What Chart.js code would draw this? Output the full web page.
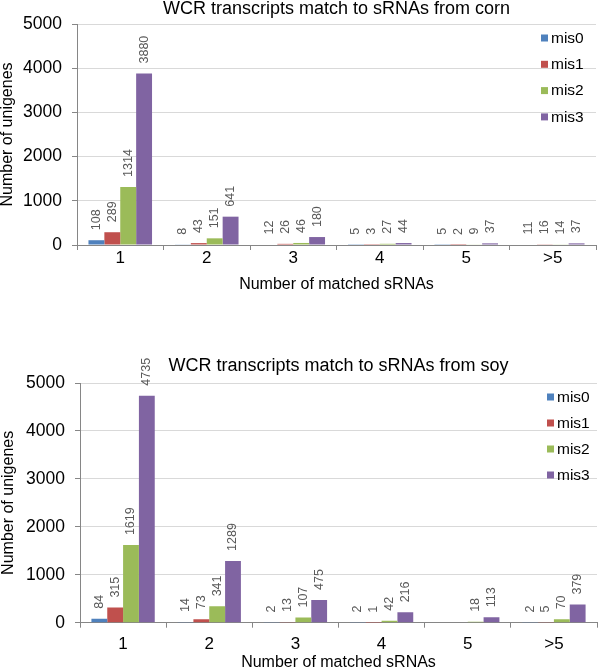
<!DOCTYPE html>
<html><head><meta charset="utf-8">
<script src="https://cdn.jsdelivr.net/npm/chart.js@4"></script>
<style>
html,body{margin:0;padding:0;background:#fff;overflow:hidden;width:600px;height:669px}
#c1wrap{position:absolute;left:0;top:0;width:600px;height:300px}
#c2wrap{position:absolute;left:0;top:325px;width:600px;height:354px}
</style></head><body>
<div id="c1wrap"><canvas id="corn"></canvas></div>
<div id="c2wrap"><canvas id="soy"></canvas></div>
<script>
const categories = ['1', '2', '3', '4', '5', '>5'];
const seriesNames = ['mis0', 'mis1', 'mis2', 'mis3'];
const cornMis0 = [108, 8, 12, 5, 5, 11];
const cornMis1 = [289, 43, 26, 3, 2, 16];
const cornMis2 = [1314, 151, 46, 27, 9, 14];
const cornMis3 = [3880, 641, 180, 44, 37, 37];
const soyMis0 = [84, 14, 2, 2, null, 2];
const soyMis1 = [315, 73, 13, 1, null, 5];
const soyMis2 = [1619, 341, 107, 42, 18, 70];
const soyMis3 = [4735, 1289, 475, 216, 113, 379];
const yTickValues = [0, 1000, 2000, 3000, 4000, 5000];
const yTickLabels = ['0', '1000', '2000', '3000', '4000', '5000'];

const COLORS = ['#4F81BD', '#C0504D', '#9BBB59', '#8064A2'];
const FONT = "'Liberation Sans', Arial, sans-serif";
Chart.defaults.font.family = FONT;

const barValues = {
  id: 'barValues',
  afterDatasetsDraw(chart, args, o) {
    const ctx = chart.ctx;
    ctx.save();
    ctx.font = o.size + 'px ' + FONT;
    ctx.fillStyle = o.color;
    ctx.textAlign = 'left';
    ctx.textBaseline = 'middle';
    chart.data.datasets.forEach((ds, i) => {
      const meta = chart.getDatasetMeta(i);
      meta.data.forEach((bar, j) => {
        const v = ds.data[j];
        if (v === null || v === undefined) return;
        ctx.save();
        ctx.translate(bar.x, bar.y - o.offset);
        ctx.rotate(-Math.PI / 2);
        ctx.fillText(String(v), 0, 0);
        ctx.restore();
      });
    });
    ctx.restore();
  }
};

const sideLegend = {
  id: 'sideLegend',
  afterDraw(chart, args, o) {
    const ctx = chart.ctx, ca = chart.chartArea;
    ctx.save();
    ctx.font = o.size + 'px ' + FONT;
    ctx.textAlign = 'left';
    ctx.textBaseline = 'middle';
    chart.data.datasets.forEach((ds, i) => {
      const y = ca.top + o.top + i * o.gap;
      const x = ca.right - o.right;
      ctx.fillStyle = ds.backgroundColor;
      ctx.fillRect(x, y - 3.5, 7, 7);
      ctx.fillStyle = '#000';
      ctx.fillText(ds.label, x + 10, y + 0.5);
    });
    ctx.restore();
  }
};

function makeChart(id, titleText, series, L) {
  return new Chart(document.getElementById(id), {
    type: 'bar',
    data: {
      labels: categories,
      datasets: series.map((d, i) => ({
        label: seriesNames[i], data: d, backgroundColor: COLORS[i],
        borderWidth: 0, categoryPercentage: 0.735, barPercentage: 1
      }))
    },
    plugins: [barValues, sideLegend],
    options: {
      responsive: true, maintainAspectRatio: false, animation: false,
      layout: { padding: { left: 0, right: L.padRight, top: 0, bottom: 0 } },
      plugins: {
        legend: { display: false },
        tooltip: { enabled: false },
        title: {
          display: true, text: titleText, fullSize: false, color: '#000',
          font: { size: 18, weight: 'normal', lineHeight: 1 },
          padding: { top: L.titleTop, bottom: L.titleBottom }
        },
        barValues: { size: 12.5, color: '#595959', offset: 10 },
        sideLegend: { size: 15.5, top: 14, gap: L.legendGap, right: L.legendRight }
      },
      scales: {
        x: {
          grid: { offset: true, drawOnChartArea: false, tickLength: 5, color: '#868686', tickColor: '#868686' },
          border: { color: '#868686' },
          ticks: { font: { size: 17, lineHeight: 1 }, color: '#000', padding: L.xTickPad },
          title: { display: true, text: 'Number of matched sRNAs', color: '#000',
                   font: { size: 16, lineHeight: 1 }, padding: { top: 0, bottom: L.xTitleBottom } },
          afterFit: s => { s.height = L.xHeight; }
        },
        y: {
          min: 0, max: 5000,
          afterBuildTicks: s => { s.ticks = yTickValues.map(v => ({ value: v })); },
          ticks: { font: { size: 17.5 }, color: '#000', padding: 10,
                   callback: (v, i) => yTickLabels[yTickValues.indexOf(v)] },
          grid: { color: '#d9d9d9', tickColor: '#868686', tickLength: 5 },
          border: { color: '#868686' },
          title: { display: true, text: 'Number of unigenes', color: '#000',
                   font: { size: 16, lineHeight: 1 }, padding: { top: L.yTitlePad, bottom: 0 } },
          afterFit: s => { s.width = L.yWidth; }
        }
      }
    }
  });
}

makeChart('corn', 'WCR transcripts match to sRNAs from corn',
  [cornMis0, cornMis1, cornMis2, cornMis3],
  { padRight: 4, titleTop: 0, titleBottom: 6, xTickPad: 0, xTitleBottom: 7, xHeight: 55,
    yTitlePad: -0.5, yWidth: 77, legendGap: 26.3, legendRight: 55 });

makeChart('soy', 'WCR transcripts match to sRNAs from soy',
  [soyMis0, soyMis1, soyMis2, soyMis3],
  { padRight: 3, titleTop: 31.7, titleBottom: 8.3, xTickPad: 8, xTitleBottom: 8, xHeight: 56.3,
    yTitlePad: 1, yWidth: 80, legendGap: 26, legendRight: 50 });
</script>
</body></html>
